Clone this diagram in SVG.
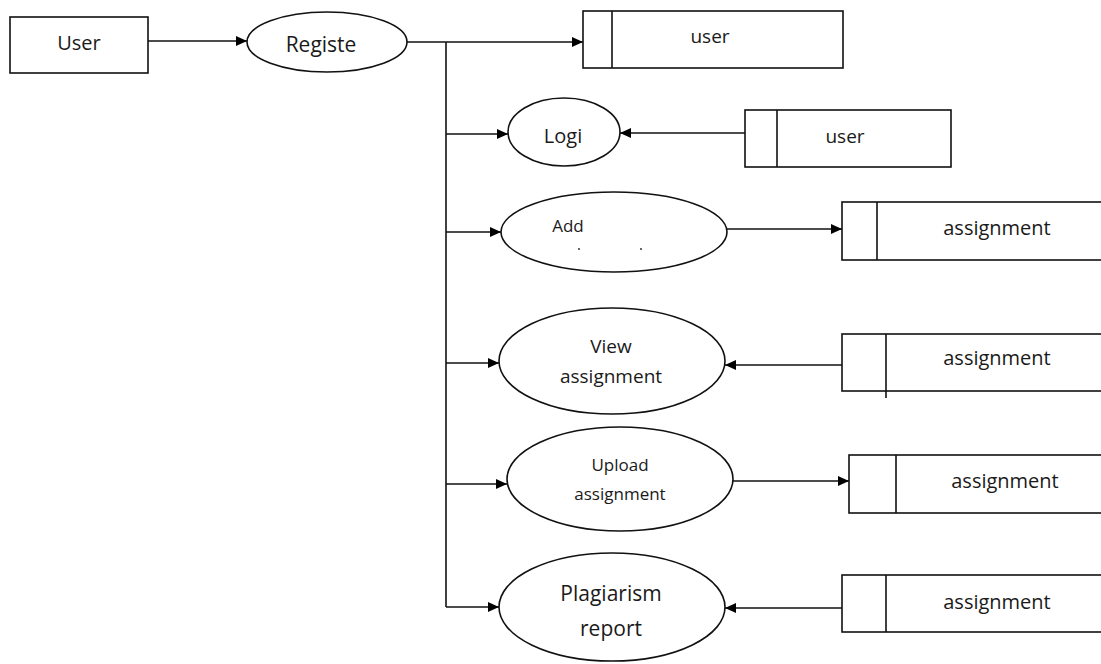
<svg xmlns="http://www.w3.org/2000/svg" width="1101" height="664" viewBox="0 0 1101 664">
<defs>
<marker id="arr" markerUnits="userSpaceOnUse" markerWidth="12" markerHeight="10" refX="11" refY="5" orient="auto">
<path d="M0,0 L11,5 L0,10 z" fill="#000"/>
</marker>
<style>
.shape{fill:#fff;stroke:#111;stroke-width:1.6}
.edge{fill:none;stroke:#111;stroke-width:1.6}
.t{font-family:"Open Sans","Noto Sans",sans-serif;fill:#1a1a1a;text-anchor:middle}
</style>
</defs>
<rect width="1101" height="664" fill="#fff"/>
<g id="connectors">
<line class="edge" x1="148" y1="41" x2="247" y2="41" marker-end="url(#arr)"/>
<line class="edge" x1="407" y1="42" x2="583" y2="42" marker-end="url(#arr)"/>
<line class="edge" x1="446" y1="42" x2="446" y2="607"/>
<line class="edge" x1="446" y1="134" x2="508" y2="134" marker-end="url(#arr)"/>
<line class="edge" x1="745" y1="133" x2="620" y2="133" marker-end="url(#arr)"/>
<line class="edge" x1="446" y1="232" x2="501" y2="232" marker-end="url(#arr)"/>
<line class="edge" x1="727" y1="229" x2="842" y2="229" marker-end="url(#arr)"/>
<line class="edge" x1="446" y1="363" x2="499" y2="363" marker-end="url(#arr)"/>
<line class="edge" x1="842" y1="365" x2="725" y2="365" marker-end="url(#arr)"/>
<line class="edge" x1="446" y1="484" x2="507" y2="484" marker-end="url(#arr)"/>
<line class="edge" x1="733" y1="481" x2="849" y2="481" marker-end="url(#arr)"/>
<line class="edge" x1="446" y1="607" x2="499" y2="607" marker-end="url(#arr)"/>
<line class="edge" x1="842" y1="608" x2="725" y2="608" marker-end="url(#arr)"/>
</g>
<g id="user">
<rect class="shape" x="10" y="17" width="138" height="56"/>
<text class="t" x="79" y="50" font-size="20">User</text>
</g>
<g id="registe">
<ellipse class="shape" cx="327" cy="42" rx="80" ry="30"/>
<text class="t" x="321" y="52" font-size="21">Registe</text>
</g>
<g id="store-user-1">
<rect class="shape" x="583" y="11" width="260" height="57"/>
<line class="edge" x1="612" y1="11" x2="612" y2="68"/>
<text class="t" x="710" y="43" font-size="19">user</text>
</g>
<g id="logi">
<ellipse class="shape" cx="564" cy="132" rx="56" ry="34"/>
<text class="t" x="563" y="143" font-size="20">Logi</text>
</g>
<g id="store-user-2">
<rect class="shape" x="745" y="110" width="206" height="57"/>
<line class="edge" x1="777" y1="110" x2="777" y2="167"/>
<text class="t" x="845" y="143" font-size="19">user</text>
</g>
<g id="add">
<ellipse class="shape" cx="614" cy="232" rx="113" ry="40"/>
<text class="t" x="568" y="232" font-size="17">Add</text>
<circle cx="579" cy="249" r="0.9" fill="#222"/>
<circle cx="641" cy="249" r="0.9" fill="#222"/>
</g>
<g id="store-assignment-1">
<rect class="shape" x="842" y="202" width="270" height="58"/>
<line class="edge" x1="877" y1="202" x2="877" y2="260"/>
<text class="t" x="997" y="235" font-size="20">assignment</text>
</g>
<g id="view">
<ellipse class="shape" cx="612" cy="361" rx="113" ry="53"/>
<text class="t" x="611" y="353" font-size="19">View</text>
<text class="t" x="611" y="383" font-size="19">assignment</text>
</g>
<g id="store-assignment-2">
<rect class="shape" x="842" y="334" width="270" height="57"/>
<line class="edge" x1="886" y1="334" x2="886" y2="398"/>
<text class="t" x="997" y="365" font-size="20">assignment</text>
</g>
<g id="upload">
<ellipse class="shape" cx="620" cy="479" rx="113" ry="52"/>
<text class="t" x="620" y="471" font-size="17">Upload</text>
<text class="t" x="620" y="500" font-size="17">assignment</text>
</g>
<g id="store-assignment-3">
<rect class="shape" x="849" y="455" width="270" height="58"/>
<line class="edge" x1="896" y1="455" x2="896" y2="513"/>
<text class="t" x="1005" y="488" font-size="20">assignment</text>
</g>
<g id="plagiarism">
<ellipse class="shape" cx="612" cy="607" rx="113" ry="54"/>
<text class="t" x="611" y="601" font-size="21">Plagiarism</text>
<text class="t" x="611" y="636" font-size="21">report</text>
</g>
<g id="store-assignment-4">
<rect class="shape" x="842" y="575" width="270" height="57"/>
<line class="edge" x1="886" y1="575" x2="886" y2="632"/>
<text class="t" x="997" y="609" font-size="20">assignment</text>
</g>
</svg>
